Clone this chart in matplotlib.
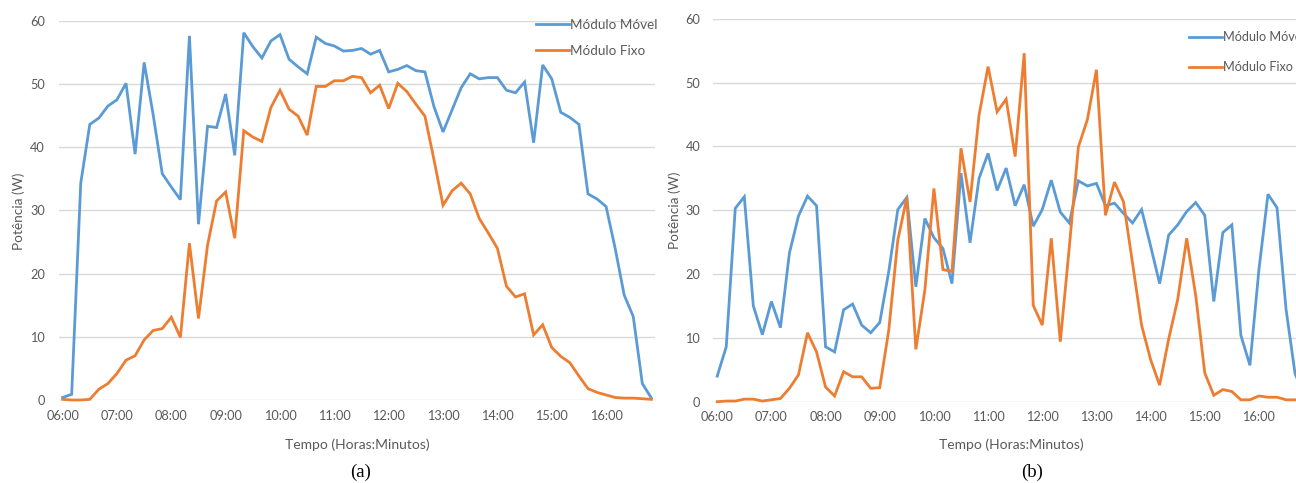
import matplotlib
matplotlib.use("Agg")
import matplotlib.pyplot as plt

plt.rcParams['font.family'] = ['Lato', 'DejaVu Sans']

# leituras a cada 10 min, das 06:00 às 16:50
hour_labels = ['06:00', '07:00', '08:00', '09:00', '10:00', '11:00',
               '12:00', '13:00', '14:00', '15:00', '16:00']

movel_a = [0.4, 0.9, 34.3, 43.6, 44.6, 46.5, 47.5, 50.1, 38.9, 53.4,
           45.1, 35.8, 33.7, 31.7, 57.6, 27.8, 43.3, 43.1, 48.4, 38.7,
           58.1, 55.9, 54.1, 56.8, 57.8, 53.9, 52.7, 51.6, 57.4, 56.4,
           56.0, 55.2, 55.3, 55.6, 54.7, 55.3, 51.9, 52.3, 52.9, 52.1,
           51.9, 46.4, 42.4, 45.9, 49.4, 51.6, 50.8, 51.0, 51.0, 49.0,
           48.6, 50.3, 40.7, 53.0, 50.8, 45.5, 44.7, 43.6, 32.6, 31.8,
           30.6, 24.0, 16.6, 13.2, 2.6, 0.3]
fixo_a = [0.1, 0.0, 0.0, 0.1, 1.7, 2.6, 4.2, 6.3, 7.0, 9.5,
          11.0, 11.3, 13.1, 9.9, 24.8, 12.9, 24.5, 31.5, 32.9, 25.6,
          42.6, 41.6, 40.9, 46.3, 49.0, 46.0, 44.9, 41.9, 49.6, 49.6,
          50.5, 50.5, 51.2, 51.0, 48.6, 49.8, 46.1, 50.1, 48.8, 46.8,
          44.9, 38.0, 30.8, 33.1, 34.3, 32.6, 28.7, 26.4, 24.0, 18.0,
          16.3, 16.8, 10.3, 11.9, 8.3, 6.9, 5.9, 3.8, 1.8, 1.2,
          0.8, 0.4, 0.3, 0.3, 0.2, 0.1]

movel_b = [4.0, 8.6, 30.3, 32.1, 15.0, 10.5, 15.7, 11.6, 23.3, 29.1,
           32.2, 30.7, 8.6, 7.8, 14.4, 15.3, 12.0, 10.8, 12.4, 20.4,
           30.1, 32.0, 18.0, 28.7, 25.7, 24.0, 18.5, 35.8, 24.9, 35.0,
           38.9, 33.1, 36.6, 30.7, 34.0, 27.5, 30.1, 34.7, 29.7, 28.0,
           34.6, 33.8, 34.2, 30.7, 31.1, 29.5, 28.0, 30.1, 24.4, 18.5,
           26.1, 27.7, 29.8, 31.2, 29.2, 15.7, 26.5, 27.7, 10.4, 5.7,
           20.7, 32.5, 30.4, 14.5, 4.4, 1.0]
fixo_b = [0.0, 0.1, 0.1, 0.4, 0.4, 0.1, 0.3, 0.5, 2.1, 4.2,
          10.8, 7.8, 2.3, 0.9, 4.7, 3.9, 3.9, 2.1, 2.2, 11.2,
          25.3, 32.0, 8.2, 17.5, 33.4, 20.7, 20.4, 39.7, 31.3, 44.9,
          52.5, 45.4, 47.4, 38.4, 54.6, 15.1, 12.0, 25.6, 9.4, 24.3,
          39.9, 44.2, 52.0, 29.2, 34.4, 31.3, 21.7, 12.0, 6.6, 2.6,
          9.8, 16.0, 25.6, 16.6, 4.5, 1.0, 1.9, 1.6, 0.3, 0.3,
          0.9, 0.7, 0.7, 0.3, 0.3, 0.3]

AZUL = '#5B9BD5'
LARANJA = '#ED7D31'
CINZA = '#595959'
W, H = 1296, 483

fig = plt.figure(figsize=(W / 100, H / 100), dpi=100)


def painel(rect, movel, fixo, xlim, ypad, leg_xy, leg_gap, leg_fs):
    ax = fig.add_axes(rect)
    x = list(range(len(movel)))
    ax.plot(x, movel, color=AZUL, lw=2.0, label='Módulo Móvel',
            solid_joinstyle='miter', clip_on=False, zorder=3)
    ax.plot(x, fixo, color=LARANJA, lw=2.0, label='Módulo Fixo',
            solid_joinstyle='miter', clip_on=False, zorder=3)
    ax.set_xlim(*xlim)
    ax.set_ylim(0, 60)
    ax.set_yticks(range(0, 61, 10))
    ax.set_xticks(range(0, 61, 6))
    ax.set_xticklabels(hour_labels)
    ax.grid(axis='y', color='#D9D9D9', lw=1.0)
    ax.set_axisbelow(True)
    for s in ax.spines.values():
        s.set_visible(False)
    ax.tick_params(length=0, labelsize=9.2, labelcolor=CINZA)
    ax.tick_params(axis='y', pad=ypad)
    ax.tick_params(axis='x', pad=7)
    ax.legend(loc='upper left', bbox_to_anchor=(leg_xy[0] / W, 1 - leg_xy[1] / H),
              bbox_transform=fig.transFigure, frameon=False, fontsize=leg_fs,
              handlelength=33 / (leg_fs * 1.389), handletextpad=0.1,
              labelspacing=leg_gap, borderpad=0, borderaxespad=0,
              labelcolor=CINZA)
    return ax


painel([59 / W, 1 - 400 / H, 596 / W, 379.3 / H], movel_a, fixo_a,
       (-0.4, 65.4), 10, (536, 19), 1.05, 9.7)
painel([712.7 / W, 1 - 401.7 / H, 595 / W, 383 / H], movel_b, fixo_b,
       (-0.5, 65.4), 9, (1189, 31), 1.45, 9.1)

# títulos dos eixos
for xc, yc in [(19, 211), (675, 210)]:
    fig.text(xc / W, 1 - yc / H, 'Potência (W)', rotation=90, ha='center',
             va='center', fontsize=9.8, color=CINZA)
for xc in [357, 1011]:
    fig.text(xc / W, 1 - 445 / H, 'Tempo (Horas:Minutos)', ha='center',
             va='center', fontsize=10, color=CINZA)

# legendas dos painéis
for xc, txt in [(361, '(a)'), (1032, '(b)')]:
    fig.text(xc / W, 1 - 472 / H, txt, ha='center', va='center',
             fontsize=13.5, family='Liberation Serif', color='black')

fig.savefig('out.png', dpi=100)
